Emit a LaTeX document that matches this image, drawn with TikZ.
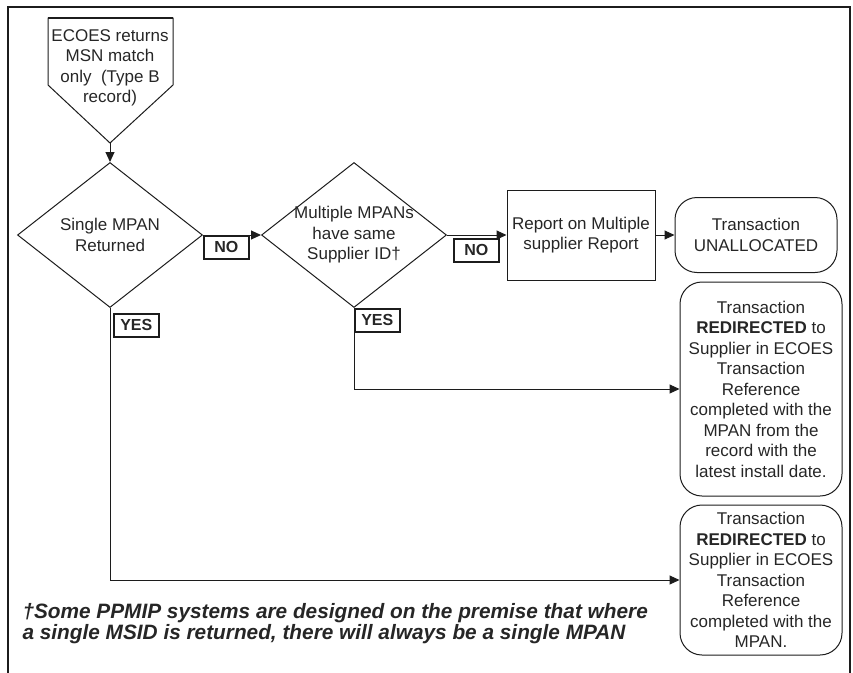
\documentclass[tikz,border=0pt]{standalone}
\usepackage{fontspec}
\setmainfont{Liberation Sans}
\usetikzlibrary{arrows.meta,shapes.geometric,positioning}
\definecolor{ink}{HTML}{262626}
\definecolor{edge}{HTML}{1C1C1C}

\begin{document}
\begin{tikzpicture}[x=1pt,y=-1pt,line width=1pt,
  flow/.style={draw=edge,-{Triangle[length=10pt,width=9pt]}},
  txt/.style={font=\fontsize{17}{20.5}\selectfont,text=ink,align=center},
  decision/.style={diamond,draw=edge,minimum width=185pt,minimum height=145pt,inner sep=0pt},
  process/.style={txt,rectangle,draw=edge,minimum width=148pt,minimum height=90pt},
  outcome/.style={txt,rectangle,rounded corners=22pt,draw=edge,minimum width=162pt,inner sep=2pt},
  answer/.style={draw=edge,line width=1.6pt,font=\fontsize{16}{16}\selectfont\bfseries,text=ink,
    minimum width=45pt,minimum height=23pt,inner sep=0pt,anchor=north west}]
\useasboundingbox (0,0) rectangle (853,672);
\draw[edge,line width=1.5pt] (8,690) -- (8,7) -- (850,7) -- (850,690);
% start: the off-page connector
\node[txt] (start) at (110,68) {ECOES returns\\MSN match\\only\ \ (Type B\\record)};
\draw[edge] (48,85) -- (48,18) -- (173,18) -- (173,85) -- (110,143) -- cycle;
\draw[edge,line width=2pt] (48,18) -- (173,18);
\coordinate (start tip) at (110,143);
% decisions
\node[decision,label={[txt]center:{Single MPAN\\Returned}}] (single) at (110,235) {};
\node[decision,label={[txt]center:{Multiple MPANs\\have same\\Supplier ID†}}] (multi) at (354,235) {};
\node[process] (report) at (581,235) {Report on Multiple\\supplier Report};
% outcomes
\node[outcome,minimum height=75pt] (unalloc) at (756,235) {Transaction\\UNALLOCATED};
\node[outcome,minimum height=214pt] (redir1) at (761,389) {Transaction\\\textbf{REDIRECTED} to\\Supplier in ECOES\\Transaction\\Reference\\completed with the\\MPAN from the\\record with the\\latest install date.};
\node[outcome,minimum height=150pt] (redir2) at (761,580) {Transaction\\\textbf{REDIRECTED} to\\Supplier in ECOES\\Transaction\\Reference\\completed with the\\MPAN.};
% connectors
\draw[flow] (start tip) -- (single.north);
\draw[flow] (single.east) -- node[answer,pos=0] {NO} (multi.west);
\draw[flow] (multi.east) -- node[answer,pos=0,xshift=6pt,yshift=-3pt] {NO} (report.west);
\draw[flow] (report.east) -- (unalloc.west);
\draw[flow] (multi.south) |- node[answer,pos=0] {YES} (redir1.west);
\draw[flow] (single.south) |- node[answer,pos=0,xshift=3pt,yshift=-5pt] {YES} (redir2.west);
\node[font=\fontsize{20.8}{21}\selectfont\bfseries\itshape,text=ink,align=left,anchor=west,inner sep=0pt] (note) at (22,624)
  {†Some PPMIP systems are designed on the premise that where\\a single MSID is returned, there will always be a single MPAN};
\end{tikzpicture}
\end{document}
